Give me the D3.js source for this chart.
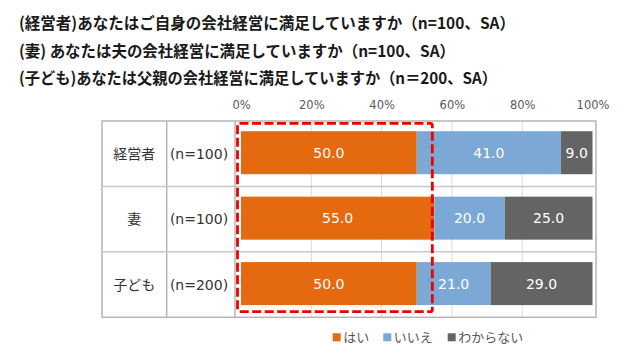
<!DOCTYPE html>
<html><head><meta charset="utf-8">
<script src="https://cdn.jsdelivr.net/npm/d3@7"></script>
<style>html,body{margin:0;padding:0;background:#fff}svg{display:block}</style>
</head><body>
<svg id="c" width="630" height="356"></svg>
<script>
const titles = [
  "(経営者)あなたはご自身の会社経営に満足していますか（n=100、SA）",
  "(妻) あなたは夫の会社経営に満足していますか（n=100、SA）",
  "(子ども)あなたは父親の会社経営に満足していますか（n＝200、SA）"
];
const categories = ["経営者", "妻", "子ども"];
const sampleSizes = ["(n=100)", "(n=100)", "(n=200)"];
const seriesNames = ["はい", "いいえ", "わからない"];
const yesValues = [50.0, 55.0, 50.0];
const noValues = [41.0, 20.0, 21.0];
const dkValues = [9.0, 25.0, 29.0];
const tickValues = [0, 20, 40, 60, 80, 100];
const colors = ["#E5690E", "#7BA8D5", "#646464"];

const svg = d3.select("#c");
const cjk = "'Noto Sans CJK JP', 'Noto Sans', sans-serif";
const lat = "'DejaVu Sans', 'Noto Sans', sans-serif";

// titles
const titleLens = [496, 436, 478];
titles.forEach((t, i) => {
  svg.append("text").attr("x", 19).attr("y", 29 + i * 27.5)
    .attr("font-family", cjk).attr("font-weight", "bold").attr("font-size", 16)
    .attr("fill", "#1a1a1a")
    .attr("textLength", titleLens[i]).attr("lengthAdjust", "spacingAndGlyphs")
    .text(t);
});

const tableLeft = 102, col1 = 166.7, col2 = 235, tableRight = 596;
const tTop = 121, tBottom = 317.3;
const x = d3.scaleLinear().domain([0, 100]).range([241, 592.5]);
const y = d3.scaleBand().domain(categories).range([tTop, tBottom]).padding(0);
const bw = y.bandwidth();
const barH = 43;

// grid lines
svg.append("g").selectAll("line").data(tickValues.slice(1, 5)).join("line")
  .attr("x1", d => x(d)).attr("x2", d => x(d)).attr("y1", tTop).attr("y2", tBottom)
  .attr("stroke", "#dadada").attr("stroke-width", 1);

// table lines
const tg = svg.append("g").attr("stroke", "#b5b5b5").attr("stroke-width", 1.5).attr("fill", "none");
tg.append("rect").attr("x", tableLeft).attr("y", tTop).attr("width", tableRight - tableLeft).attr("height", tBottom - tTop);
[col1, col2].forEach(cx => tg.append("line").attr("x1", cx).attr("x2", cx).attr("y1", tTop).attr("y2", tBottom));
categories.slice(1).forEach(c => tg.append("line").attr("x1", tableLeft).attr("x2", tableRight).attr("y1", y(c)).attr("y2", y(c)).attr("stroke", "#c8c8c8"));

// axis tick labels
const ax = svg.append("g").attr("transform", `translate(0,${tTop - 14})`)
  .call(d3.axisTop(x).tickValues(tickValues).tickFormat(d => d + "%").tickSize(0).tickPadding(0));
ax.select(".domain").remove();
ax.selectAll("text").attr("font-family", lat).attr("font-size", 11.5).attr("fill", "#595959").attr("dy", "0.2em");

// stacked bars
const rows = categories.map((c, i) => ({ c, vals: [yesValues[i], noValues[i], dkValues[i]] }));
const stackData = rows.map(r => { const o = { c: r.c }; seriesNames.forEach((s, k) => o[s] = r.vals[k]); return o; });
const stacked = d3.stack().keys(seriesNames)(stackData);
const bars = svg.append("g");
stacked.forEach((layer, k) => {
  const g = bars.append("g").attr("fill", colors[k]);
  g.selectAll("rect").data(layer).join("rect")
    .attr("x", d => x(d[0])).attr("width", d => x(d[1]) - x(d[0]))
    .attr("y", d => y(d.data.c) + (bw - barH) / 2 - 1).attr("height", barH);
  bars.append("g").selectAll("text").data(layer).join("text")
    .attr("x", d => (x(d[0]) + x(d[1])) / 2)
    .attr("y", d => y(d.data.c) + bw / 2 - 1)
    .attr("dy", "0.36em").attr("text-anchor", "middle")
    .attr("font-family", lat).attr("font-size", 14).attr("fill", "#fff")
    .text(d => (d[1] - d[0]).toFixed(1));
});

// row labels
svg.append("g").selectAll("text").data(categories).join("text")
  .attr("x", (tableLeft + col1) / 2).attr("y", d => y(d) + bw / 2)
  .attr("dy", "0.36em").attr("text-anchor", "middle")
  .attr("font-family", cjk).attr("font-size", 14).attr("fill", "#333")
  .text(d => d);
svg.append("g").selectAll("text").data(sampleSizes).join("text")
  .attr("x", 199).attr("y", (d, i) => y(categories[i]) + bw / 2)
  .attr("dy", "0.36em").attr("text-anchor", "middle")
  .attr("font-family", lat).attr("font-size", 14).attr("fill", "#333")
  .text(d => d);

// dashed highlight box
svg.append("rect")
  .attr("x", x(0) - 3.5).attr("y", tTop + 2.3)
  .attr("width", x(yesValues[1]) - 2 - (x(0) - 3.5)).attr("height", 188.4)
  .attr("rx", 2).attr("fill", "none").attr("stroke", "#F00000")
  .attr("stroke-width", 2.8).attr("stroke-dasharray", "9,3.5");

// legend
const lx = [332.7, 383.3, 447.7];
const lg = svg.append("g");
seriesNames.forEach((s, k) => {
  lg.append("rect").attr("x", lx[k]).attr("y", 333.3).attr("width", 8).attr("height", 8).attr("fill", colors[k]);
  lg.append("text").attr("x", lx[k] + 10.5).attr("y", 337.5).attr("dy", "0.36em")
    .attr("font-family", cjk).attr("font-size", 13).attr("fill", "#595959").text(s);
});
</script>
</body></html>
